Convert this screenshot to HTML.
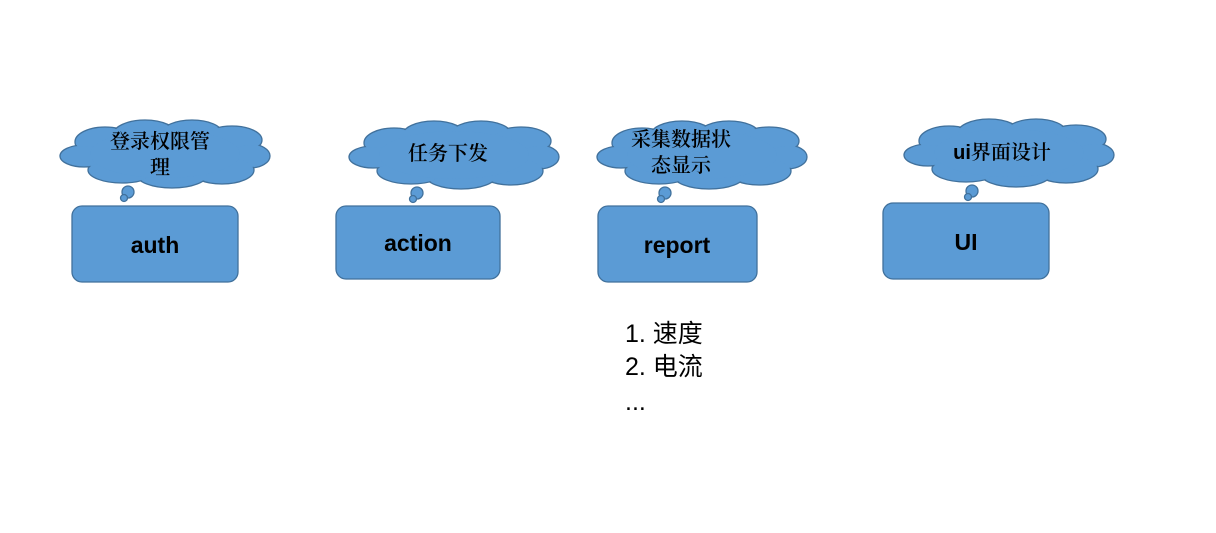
<!DOCTYPE html>
<html><head><meta charset="utf-8"><style>
html,body{margin:0;padding:0;background:#fff;width:1216px;height:533px;overflow:hidden}
svg text{font-family:"Liberation Sans","Noto Sans CJK SC",sans-serif}
.cj{font-family:"Liberation Serif","Noto Serif CJK SC",serif;font-size:20px;font-weight:600}
.bx{font-size:23px;font-weight:bold}
</style></head><body>
<svg width="1216" height="533" xmlns="http://www.w3.org/2000/svg">
<defs>
<g id="cs" fill="#5b9bd5" stroke="#41719c" stroke-width="1.3">
<ellipse cx="45" cy="24" rx="30" ry="15"/><ellipse cx="85" cy="17" rx="32" ry="15"/>
<ellipse cx="132" cy="15" rx="30" ry="13"/><ellipse cx="172" cy="22" rx="30" ry="14"/>
<ellipse cx="190" cy="38" rx="20" ry="12"/><ellipse cx="162" cy="52" rx="32" ry="14"/>
<ellipse cx="112" cy="56" rx="36" ry="14"/><ellipse cx="62" cy="52" rx="34" ry="13"/>
<ellipse cx="24" cy="38" rx="24" ry="11"/>
<circle cx="68" cy="74" r="6"/><circle cx="64" cy="80" r="3.5"/>
</g>
<g id="cf" fill="#5b9bd5">
<ellipse cx="45" cy="24" rx="29" ry="14"/><ellipse cx="85" cy="17" rx="31" ry="14"/>
<ellipse cx="132" cy="15" rx="29" ry="12"/><ellipse cx="172" cy="22" rx="29" ry="13"/>
<ellipse cx="190" cy="38" rx="19" ry="11"/><ellipse cx="162" cy="52" rx="31" ry="13"/>
<ellipse cx="112" cy="56" rx="35" ry="13"/><ellipse cx="62" cy="52" rx="33" ry="12"/>
<ellipse cx="24" cy="38" rx="23" ry="10"/><ellipse cx="105" cy="36" rx="75" ry="24"/>
</g>
</defs>
<g transform="translate(60,118)"><use href="#cs"/><use href="#cf"/></g>
<g transform="translate(349,119)"><use href="#cs"/><use href="#cf"/></g>
<g transform="translate(597,119)"><use href="#cs"/><use href="#cf"/></g>
<g transform="translate(904,117)"><use href="#cs"/><use href="#cf"/></g>

<g fill="#5b9bd5" stroke="#41719c" stroke-width="1.3">
<rect x="72" y="206" width="166" height="76" rx="10"/>
<rect x="336" y="206" width="164" height="73" rx="10"/>
<rect x="598" y="206" width="159" height="76" rx="10"/>
<rect x="883" y="203" width="166" height="76" rx="10"/>
</g>

<g text-anchor="middle" fill="#000">
<text class="cj" x="160" y="148">登录权限管</text>
<text class="cj" x="160" y="174">理</text>
<text class="cj" x="448" y="160">任务下发</text>
<text class="cj" x="681" y="146">采集数据状</text>
<text class="cj" x="681" y="172">态显示</text>
<text class="cj" x="1002" y="159"><tspan font-family="Liberation Sans" font-weight="bold">ui</tspan>界面设计</text>
<text class="bx" x="155" y="253">auth</text>
<text class="bx" x="418" y="251">action</text>
<text class="bx" x="677" y="253">report</text>
<text class="bx" x="966" y="250">UI</text>
</g>
<g font-size="25" fill="#000">
<text x="625" y="342">1. 速度</text>
<text x="625" y="375">2. 电流</text>
<text x="625" y="410">...</text>
</g>
</svg>
</body></html>
